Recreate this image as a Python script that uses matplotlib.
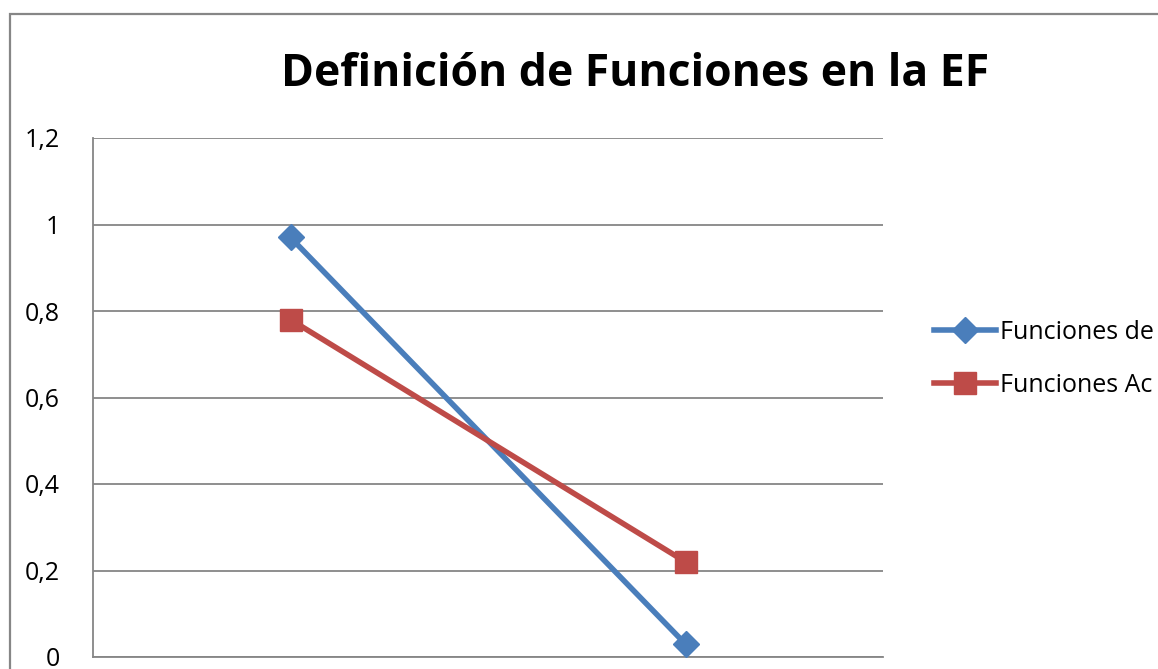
import matplotlib.pyplot as plt
from matplotlib.patches import Rectangle
from matplotlib.lines import Line2D

plt.rcParams['font.family'] = ['Open Sans', 'DejaVu Sans']

categories = ["1", "2"]
serie_a = [0.97, 0.03]
serie_b = [0.78, 0.22]
nombres = ["Funciones de", "Funciones Ac"]
yticks = [0, 0.2, 0.4, 0.6, 0.8, 1.0, 1.2]
ylabels = ["0", "0,2", "0,4", "0,6", "0,8", "1", "1,2"]

AZUL = "#4A7EBB"
ROJO = "#BE4B48"
GRIS = "#868686"

fig = plt.figure(figsize=(11.58, 6.69), dpi=100)
# borde del grafico (se sale por la derecha y abajo)
fig.patches.append(Rectangle((10/1158, -0.05), 1.2, 1 - 14/669 + 0.05,
                             transform=fig.transFigure, fill=False,
                             edgecolor=GRIS, linewidth=1.6))

ax = fig.add_axes([93/1158, 12/669, 790/1158, 519/669])
x = range(len(categories))
ax.plot(x, serie_a, color=AZUL, lw=4, marker="D", ms=13, label=nombres[0],
        solid_capstyle="butt", zorder=3)
ax.plot(x, serie_b, color=ROJO, lw=4, marker="s", ms=16, label=nombres[1],
        solid_capstyle="butt", zorder=3)

ax.set_xlim(-0.5, 1.5)
ax.set_ylim(0, 1.2)
ax.set_yticks(yticks)
ax.set_yticklabels(ylabels, fontsize=18)
ax.set_xticks([])
ax.tick_params(axis="y", length=0, pad=24)
ax.grid(axis="y", color=GRIS, lw=1.3)
ax.set_axisbelow(True)
for s in ["top", "right"]:
    ax.spines[s].set_visible(False)
for s in ["left", "bottom"]:
    ax.spines[s].set_color(GRIS)
    ax.spines[s].set_linewidth(1.3)

fig.text(0.548, 1 - 74/669, "Definición de Funciones en la EF", ha="center",
         va="center", fontsize=32, fontweight="bold")

handles = [Line2D([], [], color=AZUL, lw=4, marker="D", ms=13),
           Line2D([], [], color=ROJO, lw=4, marker="s", ms=16)]
fig.legend(handles, nombres, loc="upper left", bbox_to_anchor=(924/1158, 1 - 310/669),
           frameon=False, fontsize=18, handlelength=2.5, handletextpad=0.15,
           labelspacing=1.1, borderaxespad=0)

fig.savefig("out.png", dpi=100)
